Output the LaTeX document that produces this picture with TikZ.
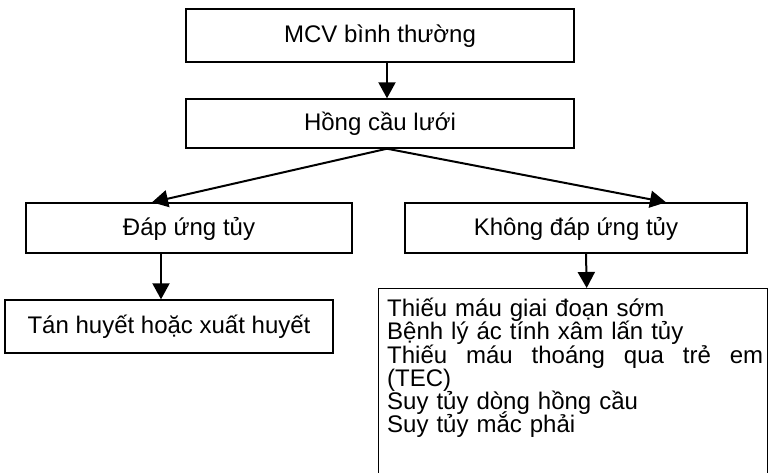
\documentclass[tikz,border=0pt]{standalone}
\usepackage{fontspec}
\setmainfont{Liberation Sans}
\usetikzlibrary{arrows.meta}
\begin{document}
\begin{tikzpicture}[x=1pt,y=-1pt,
  txt/.style={font=\fontsize{24}{23.2}\selectfont},
  box/.style={txt, draw, line width=1.4pt, inner sep=0pt, text height=19pt, text depth=5pt},
  arr/.style={line width=2pt, -{Triangle[length=16pt,width=17pt]}}]
\fill[white] (0,0) rectangle (771,472);
\useasboundingbox (0,0) rectangle (771,472);
\node[box, minimum width=388pt, minimum height=53pt] (mcv) at (380,35.5) {MCV bình thường};
\node[box, minimum width=388pt, minimum height=49pt] (hcl) at (380,123.5) {Hồng cầu lưới};
\node[box, minimum width=326pt, minimum height=50pt] (dap) at (189,228) {Đáp ứng tủy};
\node[box, minimum width=342pt, minimum height=50pt] (khong) at (576,228) {Không đáp ứng tủy};
\node[box, minimum width=328pt, minimum height=53pt] (tan) at (169,326.5) {Tán huyết hoặc xuất huyết};
\node[txt, draw, line width=1.4pt, anchor=north west, inner sep=0pt, text width=389pt] (list) at (378,288)
  {\parindent=0pt\leftskip=8.5pt\relax\lineskiplimit=-100pt\relax\rule{0pt}{28pt}Thiếu máu giai đoạn sớm\newline
   Bệnh lý ác tính xâm lấn tủy\newline
   \hbox to 376pt{Thiếu\hfill máu\hfill thoáng\hfill qua\hfill trẻ\hfill em}\newline
   (TEC)\newline
   Suy tủy dòng hồng cầu\newline
   Suy tủy mắc phải\rule[-50pt]{0pt}{50pt}\par};
\draw[arr] ([xshift=7pt]mcv.south) -- ([xshift=7pt]hcl.north);
\draw[arr] ([xshift=7pt]hcl.south) -- ([xshift=-37pt]dap.north);
\draw[arr] ([xshift=7pt]hcl.south) -- ([xshift=90pt]khong.north);
\draw[arr] ([xshift=-28pt]dap.south) -- ([xshift=-8pt]tan.north);
\draw[arr] ([xshift=10pt]khong.south) -- ([xshift=13.5pt]list.north);
\end{tikzpicture}
\end{document}
